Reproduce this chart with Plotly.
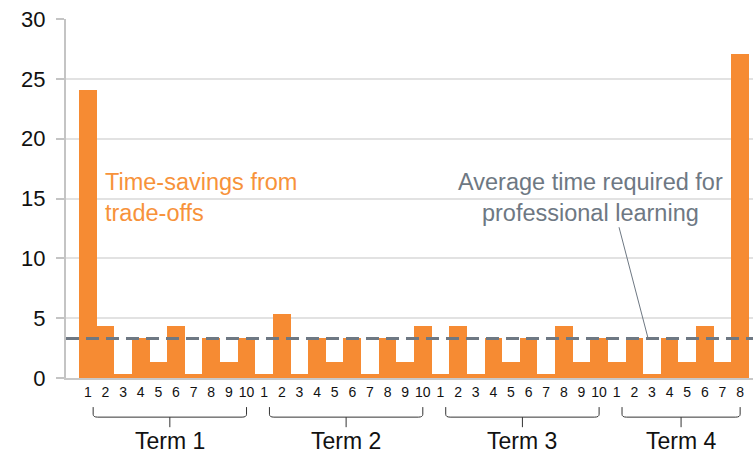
import plotly.graph_objects as go

# Data
terms = ["Term 1", "Term 2", "Term 3", "Term 4"]
term1 = [24.1, 4.33, 0.33, 3.33, 1.33, 4.33, 0.33, 3.33, 1.33, 3.33]
term2 = [0.33, 5.33, 0.33, 3.33, 1.33, 3.33, 0.33, 3.33, 1.33, 4.33]
term3 = [0.33, 4.33, 0.33, 3.33, 1.33, 3.33, 0.33, 4.33, 1.33, 3.33]
term4 = [1.33, 3.33, 0.33, 3.33, 1.33, 4.33, 1.33, 27.1]
average_required = 3.3
y_ticks = [0, 5, 10, 15, 20, 25, 30]

series = [term1, term2, term3, term4]
values = [v for s in series for v in s]
week_labels = [str(i + 1) for s in series for i in range(len(s))]
xpos = list(range(len(values)))

ORANGE = "#F68B33"
ORANGE_TXT = "#F7923A"
GREY = "#6E7883"
FONT = "Liberation Sans, Arial, sans-serif"

fig = go.Figure()
fig.add_trace(go.Bar(x=xpos, y=values, marker=dict(color=ORANGE, line=dict(width=0)),
                     width=1.0, hoverinfo="skip"))

shapes = []
annotations = []

# Average dashed line
shapes.append(dict(type="line", xref="paper", x0=0, x1=1, yref="y",
                   y0=average_required, y1=average_required,
                   line=dict(color=GREY, width=3, dash="13px,7px"), layer="above"))

# Term brackets and labels
start = 0
for name, s in zip(terms, series):
    end = start + len(s) - 1
    x0 = start + 0.3
    x1 = end
    xc = (x0 + x1) / 2
    ytop, ymid, ybot = -0.081, -0.109, -0.137
    r = 0.25
    path = (f"M {x0},{ytop} L {x0},{ymid + 0.008} Q {x0},{ymid} {x0 + r},{ymid} "
            f"L {x1 - r},{ymid} Q {x1},{ymid} {x1},{ymid + 0.008} L {x1},{ytop} "
            f"M {xc},{ymid} L {xc},{ybot}")
    shapes.append(dict(type="path", xref="x", yref="paper", path=path,
                       line=dict(color="#333333", width=1)))
    annotations.append(dict(x=xc, xref="x", y=-0.1755, yref="paper", text=name,
                            showarrow=False, yanchor="middle",
                            font=dict(size=23, color="#111111", family=FONT)))
    start = end + 1

# Text annotations
annotations.append(dict(x=0.86, xref="x", y=15.1, yref="y", xanchor="left", yanchor="middle",
                        align="left", showarrow=False,
                        text="Time-savings from<br>trade-offs",
                        font=dict(size=23.5, color=ORANGE_TXT, family=FONT)))
annotations.append(dict(x=28.49, xref="x", y=15.1, yref="y", xanchor="center", yanchor="middle",
                        align="center", showarrow=False,
                        text="Average time required for<br>professional learning",
                        font=dict(size=23.5, color=GREY, family=FONT)))
shapes.append(dict(type="line", xref="x", yref="y", x0=30.13, y0=12.6, x1=31.78,
                   y1=average_required, line=dict(color=GREY, width=1)))

fig.update_layout(
    width=753, height=457,
    margin=dict(l=66, r=0, t=19, b=79),
    plot_bgcolor="white", paper_bgcolor="white",
    showlegend=False, bargap=0,
    font=dict(family=FONT),
    shapes=shapes, annotations=annotations,
    xaxis=dict(range=[-1.24, 37.73], tickmode="array", tickvals=xpos, ticktext=week_labels,
               tickfont=dict(size=14, color="#111111"), showgrid=False, zeroline=False,
               showline=True, linecolor="#C8C8C8", linewidth=2, ticks="", ticklen=0,
               automargin=False),
    yaxis=dict(range=[0, 30], tickmode="array", tickvals=y_ticks,
               tickfont=dict(size=22, color="#111111"), showgrid=True,
               gridcolor="#E2E2E2", gridwidth=1.5, zeroline=False,
               showline=True, linecolor="#C4C4C4", linewidth=2,
               ticks="outside", ticklen=8, tickcolor="#C4C4C4", tickwidth=1.5,
               ticklabelstandoff=6, automargin=False),
)

fig.write_html("out.html", config={"displayModeBar": False},
               post_script="document.body.style.margin='0';document.body.style.overflow='hidden';")
